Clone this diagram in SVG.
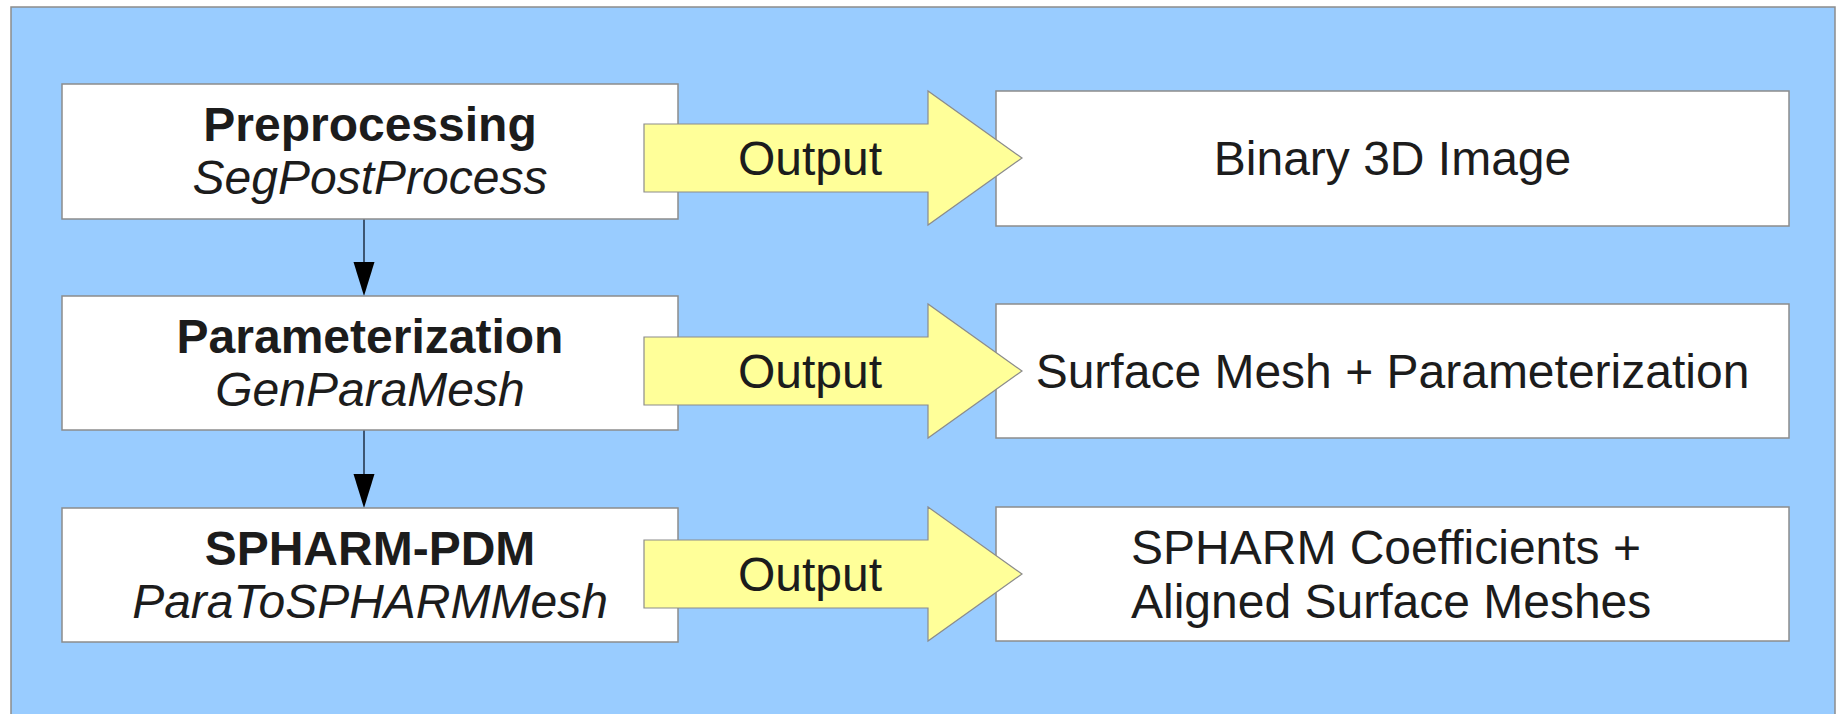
<svg xmlns="http://www.w3.org/2000/svg" width="1843" height="714" viewBox="0 0 1843 714">
<style>
text{font-family:"Liberation Sans",Arial,sans-serif;font-size:48px;fill:#1c1c1c}
.t{font-weight:bold}
.s{font-style:italic}
.box{fill:#ffffff;stroke:#8c8c8c;stroke-width:1.5}
.arr{fill:#ffff99;stroke:#8c8c8c;stroke-width:1.2}
.c{stroke:#1f2f44;stroke-width:1.5;fill:none}
</style>
<rect x="11" y="7" width="1824" height="720" fill="#99ccff" stroke="#8c8c8c" stroke-width="1.5"/>
<g id="connectors">
<line class="c" x1="364" y1="219" x2="364" y2="262"/>
<path d="M353.5,262 L374.5,262 L364,296 Z" fill="#000"/>
<line class="c" x1="364" y1="430" x2="364" y2="474"/>
<path d="M353.5,474 L374.5,474 L364,508 Z" fill="#000"/>
</g>
<g id="preprocessing">
<rect class="box" x="62" y="84" width="616" height="135"/>
<text class="t" x="370" y="141" text-anchor="middle">Preprocessing</text>
<text class="s" x="370" y="194" text-anchor="middle">SegPostProcess</text>
</g>
<g id="parameterization">
<rect class="box" x="62" y="296" width="616" height="134"/>
<text class="t" x="370" y="353" text-anchor="middle">Parameterization</text>
<text class="s" x="370" y="406" text-anchor="middle">GenParaMesh</text>
</g>
<g id="spharm-pdm">
<rect class="box" x="62" y="508" width="616" height="134"/>
<text class="t" x="370" y="565" text-anchor="middle">SPHARM-PDM</text>
<text class="s" x="370" y="618" text-anchor="middle">ParaToSPHARMMesh</text>
</g>
<g id="binary-image">
<rect class="box" x="996" y="91" width="793" height="135"/>
<text x="1392.5" y="175" text-anchor="middle">Binary 3D Image</text>
</g>
<g id="surface-mesh">
<rect class="box" x="996" y="304" width="793" height="134"/>
<text x="1392.5" y="388" text-anchor="middle">Surface Mesh + Parameterization</text>
</g>
<g id="coefficients">
<rect class="box" x="996" y="507" width="793" height="134"/>
<text x="1131" y="564">SPHARM Coefficients +</text>
<text x="1131" y="618">Aligned Surface Meshes</text>
</g>
<g id="output-1">
<path class="arr" d="M644,124 L928,124 L928,91 L1022,158 L928,225 L928,192 L644,192 Z"/>
<text x="810" y="175" text-anchor="middle">Output</text>
</g>
<g id="output-2">
<path class="arr" d="M644,337 L928,337 L928,304 L1022,371 L928,438 L928,405 L644,405 Z"/>
<text x="810" y="388" text-anchor="middle">Output</text>
</g>
<g id="output-3">
<path class="arr" d="M644,540 L928,540 L928,507 L1022,574 L928,641 L928,608 L644,608 Z"/>
<text x="810" y="591" text-anchor="middle">Output</text>
</g>
</svg>
